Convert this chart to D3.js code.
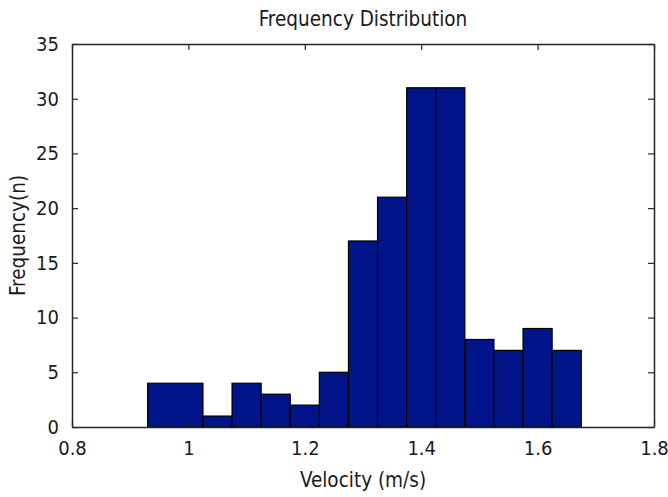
<!DOCTYPE html>
<html>
<head>
<meta charset="utf-8">
<script src="https://cdn.jsdelivr.net/npm/d3@7"></script>
<style>
  html, body { margin: 0; padding: 0; background: #fff; }
  text { font-family: "DejaVu Sans Condensed", "DejaVu Sans", sans-serif; font-stretch: condensed; fill: #1a1a1a; }
</style>
</head>
<body>
<svg id="chart" width="668" height="497"></svg>
<script>
// histogram bins (left edge, right edge, count)
var binStart = [0.93, 1.025, 1.075, 1.125, 1.175, 1.225, 1.275, 1.325, 1.375, 1.425, 1.475, 1.525, 1.575, 1.625];
var binEnd   = [1.025, 1.075, 1.125, 1.175, 1.225, 1.275, 1.325, 1.375, 1.425, 1.475, 1.525, 1.575, 1.625, 1.675];
var counts   = [4, 1, 4, 3, 2, 5, 17, 21, 31, 31, 8, 7, 9, 7];
var xTicks = [0.8, 1, 1.2, 1.4, 1.6, 1.8];
var yTicks = [0, 5, 10, 15, 20, 25, 30, 35];

var margin = { left: 72, right: 14, top: 44, bottom: 70 };
var W = 668, H = 497;
var plotW = W - margin.left - margin.right;
var plotH = H - margin.top - margin.bottom;

var svg = d3.select("#chart");
var g = svg.append("g").attr("transform", "translate(" + margin.left + "," + margin.top + ")");

var x = d3.scaleLinear().domain([0.8, 1.8]).range([0, plotW]);
var y = d3.scaleLinear().domain([0, 35]).range([plotH, 0]);

// bars
var bins = counts.map(function (c, i) { return { x0: binStart[i], x1: binEnd[i], n: c }; });
g.append("g").selectAll("rect").data(bins).enter().append("rect")
  .attr("x", function (d) { return x(d.x0); })
  .attr("y", function (d) { return y(d.n); })
  .attr("width", function (d) { return x(d.x1) - x(d.x0); })
  .attr("height", function (d) { return y(0) - y(d.n); })
  .attr("fill", "#01148a")
  .attr("stroke", "#000")
  .attr("stroke-width", 1.2);

// axes (matlab style: ticks inside, box all round)
var tickLen = 6;
var fmt = function (d) { return String(d); };
var axB = g.append("g").attr("transform", "translate(0," + plotH + ")")
  .call(d3.axisBottom(x).tickValues(xTicks).tickFormat(fmt).tickSizeInner(-tickLen).tickSizeOuter(0).tickPadding(14));
var axT = g.append("g")
  .call(d3.axisTop(x).tickValues(xTicks).tickFormat("").tickSizeInner(-tickLen).tickSizeOuter(0));
var axL = g.append("g")
  .call(d3.axisLeft(y).tickValues(yTicks).tickFormat(fmt).tickSizeInner(-tickLen).tickSizeOuter(0).tickPadding(13));
var axR = g.append("g").attr("transform", "translate(" + plotW + ",0)")
  .call(d3.axisRight(y).tickValues(yTicks).tickFormat("").tickSizeInner(-tickLen).tickSizeOuter(0));

[axB, axT, axL, axR].forEach(function (a) {
  a.attr("font-family", null).attr("font-size", null);
  a.selectAll(".domain").attr("stroke", "#262626").attr("stroke-width", 1.5);
  a.selectAll(".tick line").attr("stroke", "#262626").attr("stroke-width", 1.2);
  a.selectAll(".tick text").attr("font-size", 20).attr("fill", "#1a1a1a");
});

// title and axis labels
svg.append("text")
  .attr("x", margin.left + plotW / 2).attr("y", 26)
  .attr("text-anchor", "middle").attr("font-size", 20.5)
  .text("Frequency Distribution");

svg.append("text")
  .attr("x", margin.left + plotW / 2).attr("y", 487)
  .attr("text-anchor", "middle").attr("font-size", 20.5)
  .text("Velocity (m/s)");

svg.append("text")
  .attr("transform", "translate(25," + (margin.top + plotH / 2) + ") rotate(-90)")
  .attr("text-anchor", "middle").attr("font-size", 20.5)
  .text("Frequency(n)");
</script>
</body>
</html>
